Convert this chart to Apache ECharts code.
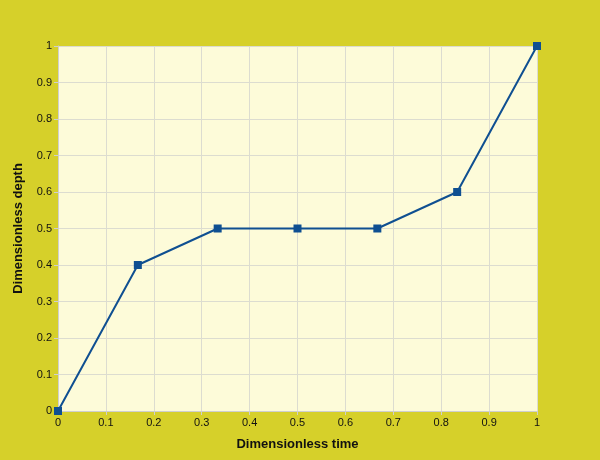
<!DOCTYPE html>
<html><head><meta charset="utf-8">
<script src="https://cdn.jsdelivr.net/npm/echarts@6/dist/echarts.min.js"></script>
<style>html,body{margin:0;padding:0;background:#d6d02a;}#c{width:600px;height:460px;}</style>
</head><body><div id="c"></div>
<script>
const xValues = [0, 1/6, 1/3, 0.5, 2/3, 5/6, 1];
const yValues = [0, 0.4, 0.5, 0.5, 0.5, 0.6, 1];
const xTitle = 'Dimensionless time';
const yTitle = 'Dimensionless depth';
const chart = echarts.init(document.getElementById('c'));
const axisCommon = {
  min: 0, max: 1, interval: 0.1,
  axisLine: {show: true, lineStyle: {color: '#cfcfcf', width: 1}},
  axisTick: {show: true, length: 4, lineStyle: {color: '#cfcfcf'}},
  splitLine: {show: true, lineStyle: {color: '#dcdcd0', width: 1}},
  axisLabel: {color: '#111', fontFamily: 'Arial, Liberation Sans, sans-serif', fontSize: 11,
    formatter: v => String(Math.round(v*10)/10)},
  nameTextStyle: {color: '#111', fontWeight: 'bold', fontSize: 13, fontFamily: 'Arial, Liberation Sans, sans-serif'}
};
chart.setOption({
  backgroundColor: '#d6d02a',
  animation: false,
  grid: {left: 58, right: 63, top: 46, bottom: 49, show: true, backgroundColor: '#fdfbd9', borderWidth: 0},
  xAxis: Object.assign({}, axisCommon, {type: 'value', name: xTitle, nameLocation: 'middle', nameGap: 27,
    axisLabel: Object.assign({}, axisCommon.axisLabel, {margin: 6})}),
  yAxis: Object.assign({}, axisCommon, {type: 'value', name: yTitle, nameLocation: 'middle', nameGap: 33,
    axisLabel: Object.assign({}, axisCommon.axisLabel, {margin: 6})}),
  series: [{
    type: 'line',
    data: xValues.map((x, i) => [x, yValues[i]]),
    symbol: 'rect', symbolSize: 8,
    lineStyle: {color: '#0f4f91', width: 2},
    itemStyle: {color: '#0f4f91'}
  }]
});
</script></body></html>
